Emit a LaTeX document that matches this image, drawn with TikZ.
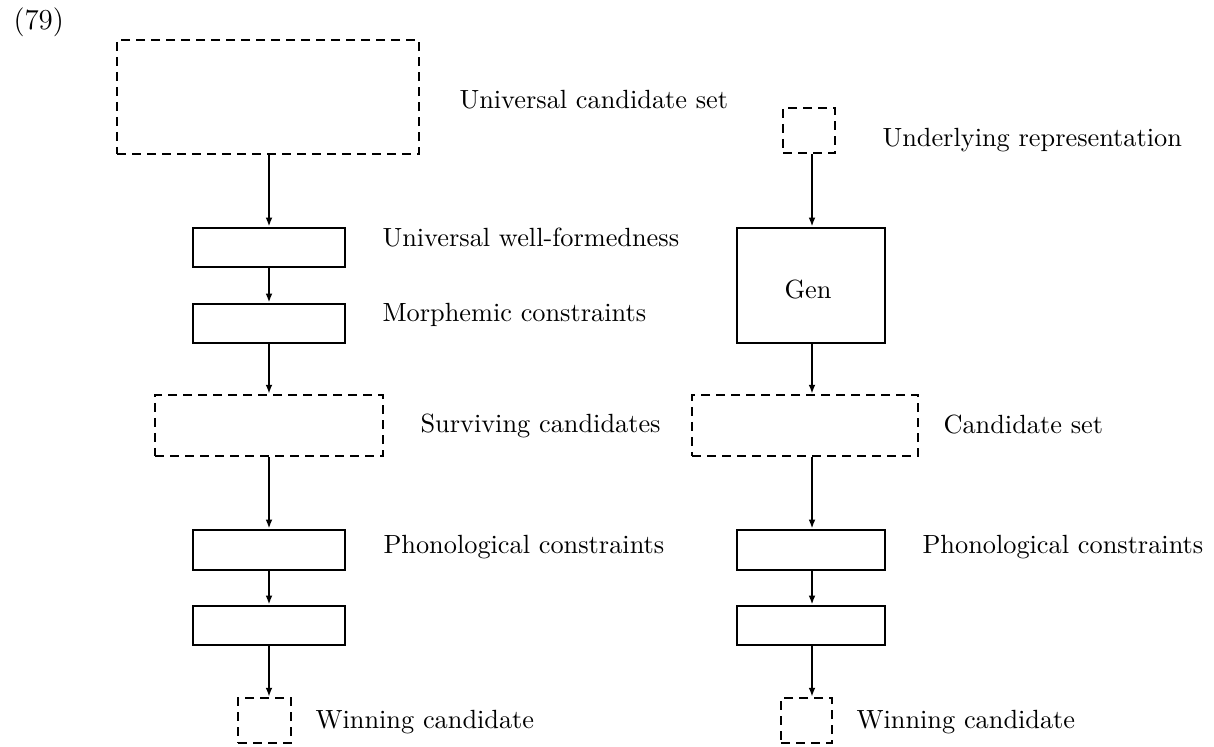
\documentclass[tikz,border=0pt]{standalone}
\usetikzlibrary{arrows.meta}
\tikzset{
  sz/.style 2 args={minimum width=#1*0.38pt, minimum height=#2*0.38pt, inner sep=0pt},
  solidbox/.style={draw, line width=1.1pt},
  dashbox/.style={draw, line width=0.95pt, dash pattern=on 3.3pt off 2.4pt},
  flow/.style={line width=0.7pt, -{Latex[length=3.4pt,width=2.6pt]}},
  lbl/.style={anchor=base west, inner sep=0pt},
}
\begin{document}
\begin{tikzpicture}[x=0.38pt, y=-0.38pt]
\useasboundingbox (0,0) rectangle (1214,747);

\node[lbl, font=\fontsize{11}{13}\selectfont] (num) at (13,30) {(79)};

% left column: candidate filtering
\node[dashbox, sz={302}{114}] (ucs) at (268,97) {};
\node[solidbox, sz={152}{39}] (uwf) at (269,247.5) {};
\node[solidbox, sz={152}{39}] (mc) at (269,323.5) {};
\node[dashbox, sz={228}{61}] (sc) at (269,425.5) {};
\node[solidbox, sz={152}{40}] (pcl) at (269,550) {};
\node[solidbox, sz={152}{39}] (pl2) at (269,625.5) {};
\node[dashbox, sz={53}{45}] (wcl) at (264.5,720.5) {};

\draw[flow] (ucs.south -| uwf) -- (uwf.north);
\draw[flow] (uwf.south) -- (mc.north);
\draw[flow] (mc.south) -- (sc.north -| mc);
\draw[flow] (sc.south -| pcl) -- (pcl.north);
\draw[flow] (pcl.south) -- (pl2.north);
\draw[flow] (pl2.south) -- (wcl.north -| pl2);

\node[lbl] (tucs) at (459,109) {Universal candidate set};
\node[lbl] (tuwf) at (382,247) {Universal well-formedness};
\node[lbl] (tmc) at (382,322) {Morphemic constraints};
\node[lbl] (tsc) at (420,433) {Surviving candidates};
\node[lbl] (tpcl) at (383,553) {Phonological constraints};
\node[lbl] (twcl) at (315,728) {Winning candidate};

% right column: generation and evaluation
\node[dashbox, sz={52}{45}] (ur) at (809,130.5) {};
\node[solidbox, sz={148}{115}] (gen) at (811,285.5) {};
\node at (808,290) {Gen};
\node[dashbox, sz={226}{61}] (cs) at (805,425.5) {};
\node[solidbox, sz={148}{40}] (pcr) at (811,550) {};
\node[solidbox, sz={148}{39}] (pr2) at (811,625.5) {};
\node[dashbox, sz={51}{45}] (wcr) at (806.5,720.5) {};

\coordinate (rx) at (812,0);
\draw[flow] (ur.south -| rx) -- (gen.north -| rx);
\draw[flow] (gen.south -| rx) -- (cs.north -| rx);
\draw[flow] (cs.south -| rx) -- (pcr.north -| rx);
\draw[flow] (pcr.south -| rx) -- (pr2.north -| rx);
\draw[flow] (pr2.south -| rx) -- (wcr.north -| rx);

\node[lbl] (tur) at (882,147) {Underlying representation};
\node[lbl] (tcs) at (943,434) {Candidate set};
\node[lbl] (tpcr) at (922,553) {Phonological constraints};
\node[lbl] (twcr) at (856,728) {Winning candidate};
\end{tikzpicture}
\end{document}
